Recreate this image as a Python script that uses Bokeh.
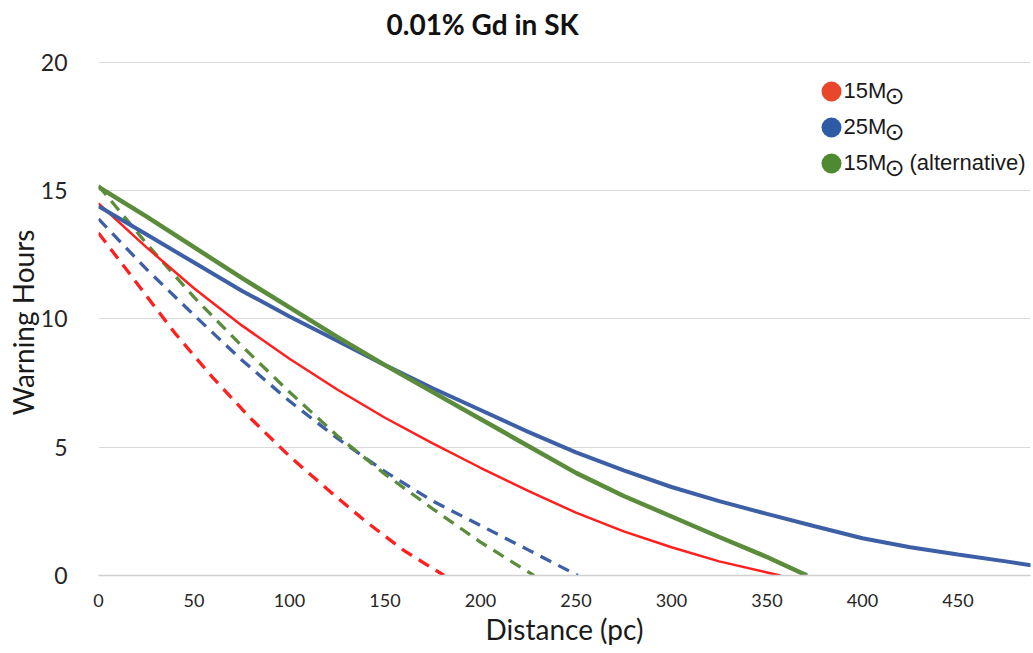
from bokeh.plotting import figure
from bokeh.models import Range1d, FixedTicker, Label, BoxAnnotation, Title
from bokeh.embed import file_html
from bokeh.resources import INLINE

# Warning time (hours) versus supernova distance (pc), 0.01% Gd loading in SK
# Solid: full curves; dashed: companion curves for each progenitor model
red_solid_x = [0, 25, 50, 75, 100, 125, 150, 175, 200, 225, 250, 275, 300, 325, 350, 357]
red_solid_y = [14.5, 12.8, 11.2, 9.75, 8.45, 7.25, 6.15, 5.15, 4.2, 3.3, 2.45, 1.72, 1.1, 0.55, 0.12, 0.0]

blue_solid_x = [0, 25, 50, 75, 100, 125, 150, 175, 200, 225, 250, 275, 300, 325, 350, 375, 400, 425, 450, 475, 490]
blue_solid_y = [14.4, 13.3, 12.2, 11.1, 10.1, 9.15, 8.2, 7.3, 6.45, 5.6, 4.8, 4.1, 3.45, 2.9, 2.4, 1.92, 1.45, 1.1, 0.82, 0.55, 0.38]

green_solid_x = [0, 25, 50, 75, 100, 125, 150, 175, 200, 225, 250, 275, 300, 325, 350, 371]
green_solid_y = [15.15, 14.0, 12.8, 11.6, 10.45, 9.3, 8.2, 7.15, 6.1, 5.05, 4.0, 3.1, 2.3, 1.5, 0.72, 0.0]

red_dash_x = [0, 20, 40, 60, 80, 100, 120, 140, 160, 181]
red_dash_y = [13.35, 11.4, 9.45, 7.7, 6.1, 4.65, 3.35, 2.1, 0.97, 0.0]

blue_dash_x = [0, 25, 50, 75, 100, 125, 150, 175, 200, 225, 251]
blue_dash_y = [13.9, 11.95, 10.15, 8.4, 6.8, 5.35, 4.05, 2.9, 1.95, 1.0, 0.0]

green_dash_x = [0, 25, 50, 75, 100, 125, 150, 175, 200, 228]
green_dash_y = [15.2, 12.95, 10.85, 8.95, 7.15, 5.45, 3.95, 2.6, 1.3, 0.0]

x_ticks = [0, 50, 100, 150, 200, 250, 300, 350, 400, 450]
y_ticks = [0, 5, 10, 15, 20]

legend_names = ["15M", "25M", "15M"]
legend_suffix = ["", "", "(alternative)"]
legend_colors = ["#e8472b", "#2f5ba5", "#4e8a31"]

RED = "#ff1f1f"
BLUE = "#3c5fa6"
GREEN = "#5a8c3b"

p = figure(width=1033, height=653, output_backend="svg", toolbar_location=None,
           x_range=Range1d(0, 488), y_range=Range1d(0, 20.7),
           min_border_left=98, min_border_right=3, min_border_top=44, min_border_bottom=78)
p.outline_line_color = None
p.background_fill_color = "white"
p.border_fill_color = "white"

# title
p.title.text = "0.01% Gd in SK"
p.title.align = "left"
p.title.offset = 288
p.title.standoff = 7
p.title.text_font = "Lato"
p.title.text_font_style = "bold"
p.title.text_font_size = "28px"
p.title.text_color = "#111111"

# grid
p.xgrid.visible = False
p.ygrid.ticker = FixedTicker(ticks=y_ticks)
p.ygrid.grid_line_color = "#d9d9d9"
p.ygrid.grid_line_width = 1.2

# axes
p.xaxis.ticker = FixedTicker(ticks=x_ticks)
p.yaxis.ticker = FixedTicker(ticks=y_ticks)
for ax in (p.xaxis, p.yaxis):
    ax.major_tick_line_color = None
    ax.minor_tick_line_color = None
    ax.major_label_text_font = "Lato"
    ax.major_label_text_color = "#262626"
p.yaxis.axis_line_color = None
p.xaxis.axis_line_color = "#d0d0d0"
p.xaxis.axis_line_width = 1.5
p.yaxis.major_label_text_font_size = "23px"
p.xaxis.major_label_text_font_size = "18px"
p.yaxis.major_label_standoff = 25
p.xaxis.major_label_standoff = 12
p.xaxis.axis_label = "Distance (pc)"
p.xaxis.axis_label_text_font = "Lato"
p.xaxis.axis_label_text_font_style = "normal"
p.xaxis.axis_label_text_font_size = "28px"
p.xaxis.axis_label_text_color = "#1a1a1a"
p.xaxis.axis_label_standoff = 2

# vertical axis title as a left-side title, so it can sit a little below centre
p.add_layout(Title(text="Warning Hours", align="left", offset=160, standoff=-4,
                   text_font="Lato", text_font_style="normal", text_font_size="28px",
                   text_color="#1a1a1a"), "left")

# dashed curves
dash = "12 8"
p.line(red_dash_x, red_dash_y, line_color=RED, line_width=3.3, line_dash=dash)
p.line(blue_dash_x, blue_dash_y, line_color=BLUE, line_width=3.3, line_dash=dash)
p.line(green_dash_x, green_dash_y, line_color=GREEN, line_width=3.3, line_dash=dash)

# solid curves
p.line(red_solid_x, red_solid_y, line_color=RED, line_width=2.5)
p.line(blue_solid_x, blue_solid_y, line_color=BLUE, line_width=4)
p.line(green_solid_x, green_solid_y, line_color=GREEN, line_width=4.5)

# legend (screen units relative to the plot frame)
dot_x = 733
dot_r = 10
row0 = 484
row_step = 36
for i, (name, suffix, col) in enumerate(zip(legend_names, legend_suffix, legend_colors)):
    cy = row0 - i * row_step
    p.add_layout(BoxAnnotation(left=dot_x - dot_r, right=dot_x + dot_r,
                               bottom=cy - dot_r, top=cy + dot_r,
                               left_units="screen", right_units="screen",
                               bottom_units="screen", top_units="screen",
                               fill_color=col, fill_alpha=1.0, line_color=None,
                               border_radius=dot_r))
    p.add_layout(Label(x=745, y=cy + 1, x_units="screen", y_units="screen", text=name,
                       text_font="Liberation Sans", text_font_size="22px",
                       text_color="#1a1a1a", text_baseline="alphabetic"))
    p.add_layout(Label(x=796, y=cy - 4, x_units="screen", y_units="screen", text="\u2299",
                       text_font="DejaVu Sans", text_font_size="24px",
                       text_color="#1a1a1a", text_align="center", text_baseline="middle"))
    if suffix:
        p.add_layout(Label(x=811, y=cy + 1, x_units="screen", y_units="screen", text=suffix,
                           text_font="Liberation Sans", text_font_size="22px",
                           text_color="#1a1a1a", text_baseline="alphabetic"))

open("out.html", "w").write(file_html(p, INLINE))
